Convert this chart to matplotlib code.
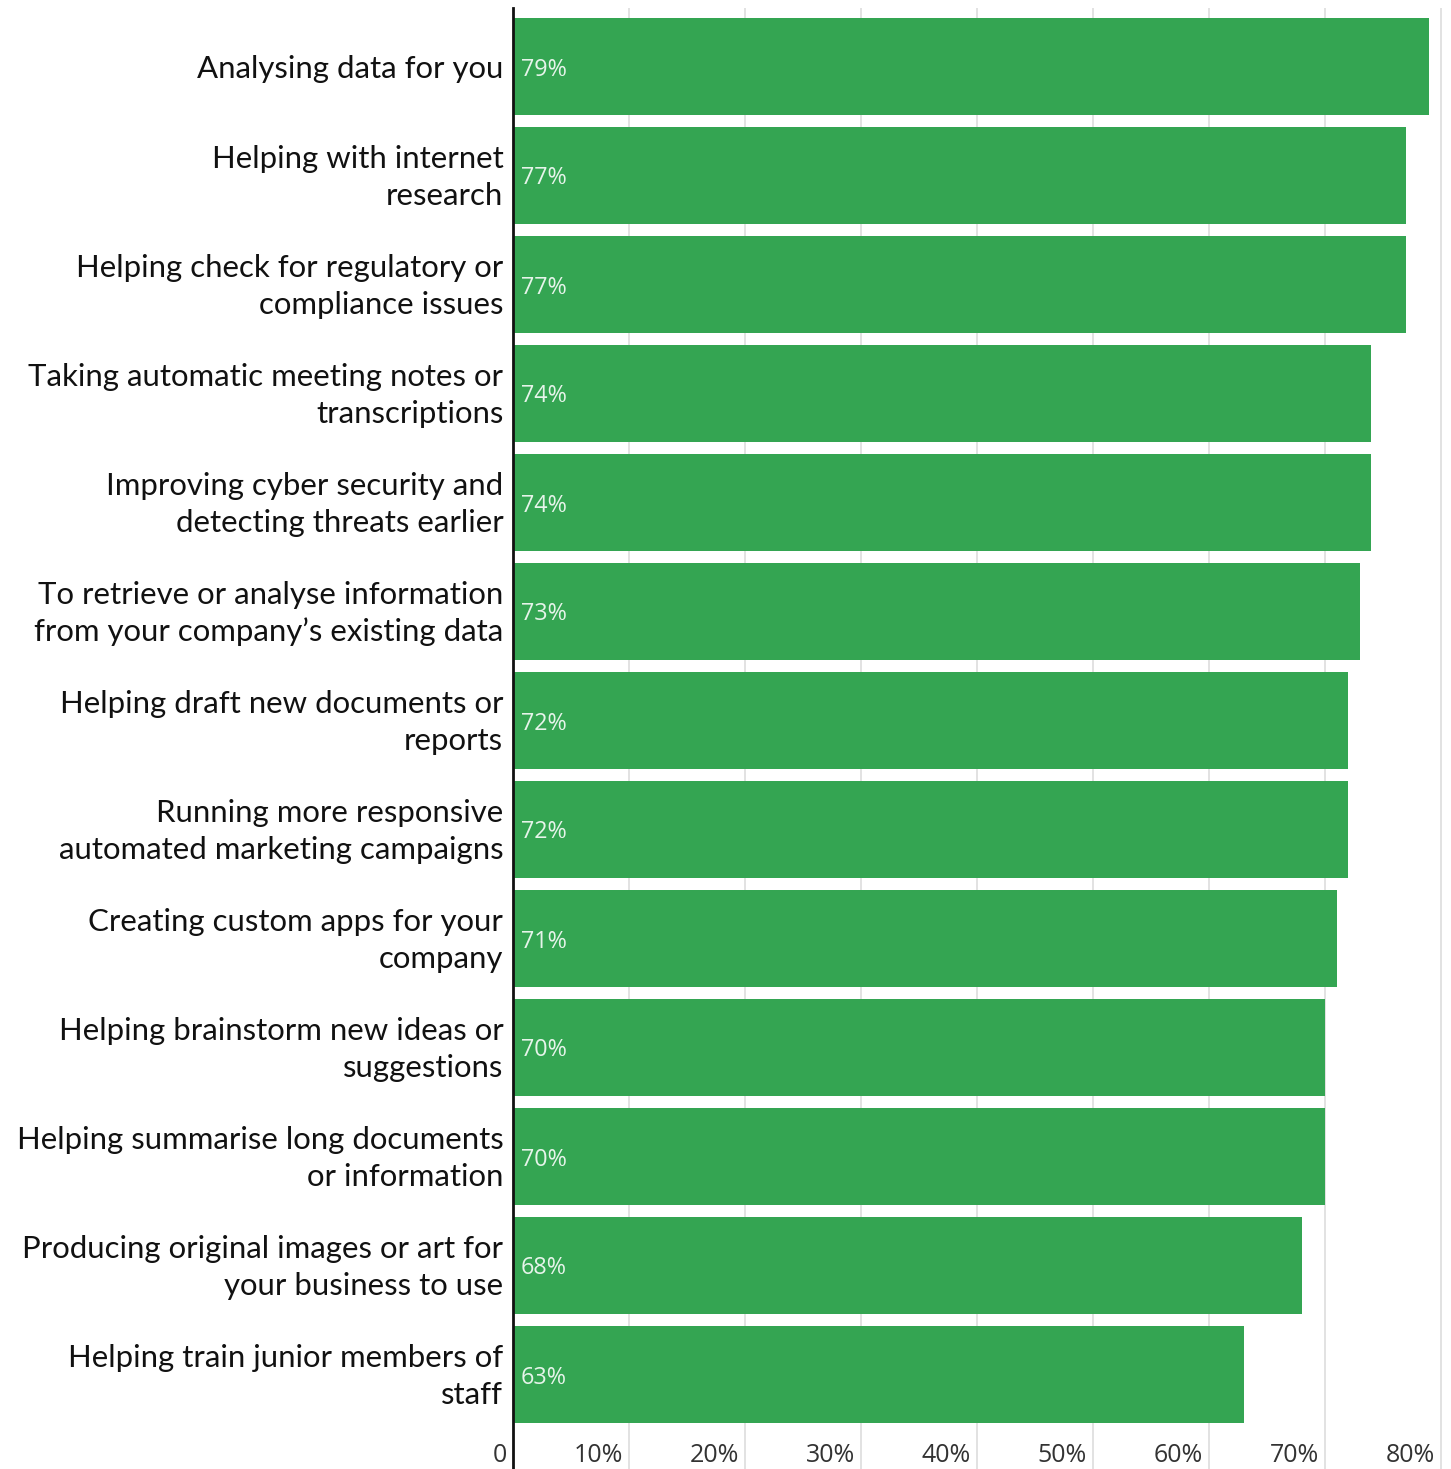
import matplotlib
matplotlib.use("Agg")
import matplotlib.pyplot as plt
from matplotlib.transforms import ScaledTranslation

categories = [
    "Analysing data for you",
    "Helping with internet\nresearch",
    "Helping check for regulatory or\ncompliance issues",
    "Taking automatic meeting notes or\ntranscriptions",
    "Improving cyber security and\ndetecting threats earlier",
    "To retrieve or analyse information\nfrom your company\u2019s existing data",
    "Helping draft new documents or\nreports",
    "Running more responsive\nautomated marketing campaigns",
    "Creating custom apps for your\ncompany",
    "Helping brainstorm new ideas or\nsuggestions",
    "Helping summarise long documents\nor information",
    "Producing original images or art for\nyour business to use",
    "Helping train junior members of\nstaff",
]
values = [79, 77, 77, 74, 74, 73, 72, 72, 71, 70, 70, 68, 63]
xticks = [0, 10, 20, 30, 40, 50, 60, 70, 80]
xticklabels = ["0", "10%", "20%", "30%", "40%", "50%", "60%", "70%", "80%"]

W, H = 1451, 1469
fig = plt.figure(figsize=(W / 100, H / 100), dpi=100)
ax = fig.add_axes([513 / W, 0, (W - 513) / W, (H - 8) / H])

green = "#34A552"
ypos = list(range(len(categories)))
ax.barh(ypos, values, height=0.89, color=green, zorder=2)

for y, v in zip(ypos, values):
    ax.text(0.7, y, f"{v}%", va="center_baseline", ha="left", color="#E6F4EA",
            fontsize=16.8, family="Open Sans", zorder=3)

ax.set_xlim(0, (W - 513) / 11.6)
ax.set_ylim(12 + 94.5 / 109, -58.5 / 109)

ax.set_yticks(ypos)
ax.set_yticklabels(categories, fontsize=22.4, family="Lato", color="#111111",
                   linespacing=1.38)
ax.tick_params(axis="y", length=0, pad=7)
up = ScaledTranslation(0, 5 / 100, fig.dpi_scale_trans)
for lab in ax.get_yticklabels():
    if "\n" in lab.get_text():
        lab.set_transform(lab.get_transform() + up)

ax.set_xticks(xticks)
ax.set_xticklabels(xticklabels, fontsize=18, family="Open Sans", color="#333333")
ax.tick_params(axis="x", length=0, pad=-19)
offset = ScaledTranslation(-6 / 100, 0, fig.dpi_scale_trans)
for lab in ax.get_xticklabels():
    lab.set_horizontalalignment("right")
    lab.set_transform(lab.get_transform() + offset)

ax.grid(axis="x", color="#DDDDDD", linewidth=1.2, zorder=0)
ax.set_axisbelow(True)
for s in ["top", "right", "bottom"]:
    ax.spines[s].set_visible(False)
ax.spines["left"].set_color("#111111")
ax.spines["left"].set_linewidth(2)
ax.spines["left"].set_zorder(4)

fig.savefig("out.png", dpi=100)
